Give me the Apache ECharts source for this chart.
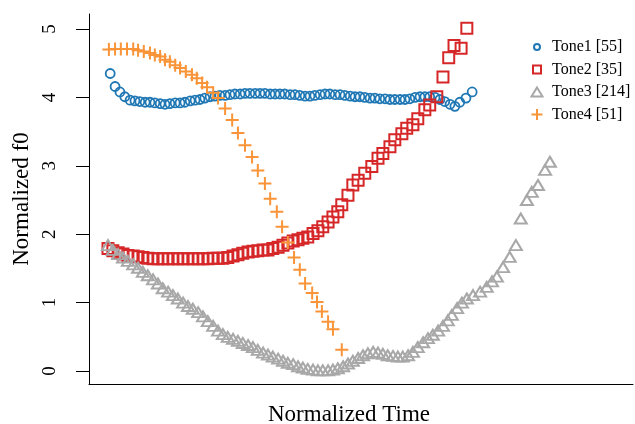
<!DOCTYPE html>
<html>
<head>
<meta charset="utf-8">
<script src="https://cdn.jsdelivr.net/npm/echarts@6/dist/echarts.min.js"></script>
<style>
  html, body { margin: 0; padding: 0; background: #fff; }
  #chart { width: 635px; height: 424px; }
</style>
</head>
<body>
<div id="chart"></div>
<script>
// Normalized f0 contours of four tones over normalized time (0-100).
const tone1Time = [0.5, 1.6, 2.7, 3.8, 5.0, 6.1, 7.2, 8.4, 9.5, 10.6, 11.8, 12.9, 14.0, 15.2, 16.3, 17.4, 18.6, 19.7, 20.8, 21.9,
  23.1, 24.2, 25.3, 26.5, 27.6, 28.7, 29.9, 31.0, 32.1, 33.3, 34.4, 35.5, 36.7, 37.8, 38.9, 40.0, 41.2, 42.3, 43.4, 44.6,
  45.7, 46.8, 48.0, 49.1, 50.2, 51.4, 52.5, 53.6, 54.8, 55.9, 57.0, 58.1, 59.3, 60.4, 61.5, 62.7, 63.8, 64.9, 66.1, 67.2,
  68.3, 69.5, 70.6, 71.7, 72.8, 74.0, 75.1, 76.2, 77.4, 78.5, 79.6, 81.0, 82.4];
const tone1F0 = [4.35, 4.16, 4.08, 4.01, 3.96, 3.95, 3.94, 3.93, 3.93, 3.92, 3.91, 3.90, 3.91, 3.92, 3.92, 3.93, 3.95, 3.96, 3.97, 3.99,
  4.01, 4.02, 4.03, 4.03, 4.04, 4.05, 4.05, 4.06, 4.06, 4.06, 4.06, 4.06, 4.05, 4.05, 4.05, 4.05, 4.04, 4.04, 4.03, 4.02,
  4.02, 4.03, 4.04, 4.05, 4.05, 4.04, 4.04, 4.03, 4.02, 4.01, 4.01, 4.00, 3.99, 3.99, 3.98, 3.98, 3.97, 3.97, 3.97, 3.97,
  3.98, 4.00, 4.01, 4.01, 4.01, 4.00, 3.97, 3.94, 3.90, 3.87, 3.93, 3.99, 4.08];

const tone2Time = [0, 1.1, 2.3, 3.4, 4.5, 5.7, 6.8, 7.9, 9.0, 10.2, 11.3, 12.4, 13.6, 14.7, 15.8, 17.0, 18.1, 19.2, 20.4, 21.5,
  22.6, 23.8, 24.9, 26.0, 27.1, 28.3, 29.4, 30.5, 31.7, 32.8, 33.9, 35.1, 36.2, 37.3, 38.5, 39.6, 40.7, 41.9, 43.0, 44.1,
  45.2, 46.4, 47.5, 48.6, 49.8, 50.9, 52.0, 52.9, 54.3, 55.4, 56.6, 58.1, 59.7, 61.1, 62.2, 63.8, 64.9, 66.5, 67.6, 69.0,
  70.1, 71.7, 72.8, 74.4, 75.8, 77.1, 78.3, 79.9, 81.2];
const tone2F0 = [1.79, 1.76, 1.73, 1.71, 1.69, 1.68, 1.67, 1.66, 1.65, 1.64, 1.64, 1.64, 1.64, 1.64, 1.64, 1.64, 1.64, 1.64, 1.64, 1.64,
  1.64, 1.65, 1.65, 1.65, 1.66, 1.68, 1.70, 1.72, 1.74, 1.75, 1.76, 1.77, 1.77, 1.79, 1.81, 1.84, 1.87, 1.90, 1.92, 1.94,
  1.96, 2.01, 2.05, 2.11, 2.18, 2.25, 2.33, 2.43, 2.57, 2.72, 2.79, 2.89, 2.99, 3.11, 3.18, 3.28, 3.38, 3.47, 3.55, 3.60,
  3.69, 3.82, 3.89, 4.01, 4.30, 4.58, 4.76, 4.72, 5.01];

const tone3Time = [0, 1.1, 2.3, 3.4, 4.5, 5.7, 6.8, 7.9, 9.0, 10.2, 11.3, 12.4, 13.6, 14.7, 15.8, 17.0, 18.1, 19.2, 20.4, 21.5,
  22.6, 23.8, 24.9, 26.0, 27.1, 28.3, 29.4, 30.5, 31.7, 32.8, 33.9, 35.1, 36.2, 37.3, 38.5, 39.6, 40.7, 41.9, 43.0, 44.1,
  45.2, 46.4, 47.5, 48.6, 49.8, 50.9, 52.0, 53.2, 54.3, 55.4, 56.6, 57.7, 58.8, 60.0, 61.1, 62.2, 63.3, 64.5, 65.6, 66.7,
  67.9, 69.0, 70.1, 71.3, 72.4, 73.5, 74.7, 75.8, 76.9, 77.8, 79.0, 80.1, 81.2, 82.6, 84.2, 85.7, 86.9, 88.0, 89.4, 90.9,
  92.3, 93.4, 94.8, 95.9, 97.3, 98.9, 100];
const tone3F0 = [1.84, 1.77, 1.71, 1.66, 1.61, 1.56, 1.51, 1.45, 1.40, 1.34, 1.28, 1.21, 1.16, 1.11, 1.06, 1.00, 0.95, 0.91, 0.86, 0.80,
  0.73, 0.66, 0.59, 0.54, 0.50, 0.47, 0.44, 0.41, 0.38, 0.35, 0.31, 0.27, 0.24, 0.21, 0.18, 0.15, 0.12, 0.10, 0.07, 0.05,
  0.03, 0.02, 0.01, 0.01, 0.01, 0.02, 0.04, 0.07, 0.11, 0.15, 0.19, 0.23, 0.26, 0.28, 0.27, 0.25, 0.23, 0.22, 0.21, 0.21,
  0.23, 0.28, 0.35, 0.42, 0.48, 0.53, 0.59, 0.66, 0.74, 0.82, 0.92, 1.00, 1.06, 1.11, 1.16, 1.23, 1.31, 1.38, 1.52, 1.67,
  1.84, 2.23, 2.50, 2.62, 2.72, 2.94, 3.06];

const tone4Time = [0.2, 1.6, 2.9, 4.3, 5.7, 6.8, 8.1, 9.5, 10.6, 11.8, 12.9, 14.0, 15.2, 16.3, 17.6, 19.0, 20.1, 21.3, 22.4, 23.8,
  24.9, 26.5, 28.1, 29.4, 31.0, 32.6, 33.9, 35.5, 36.7, 38.2, 39.4, 40.7, 42.1, 43.4, 44.6, 46.2, 47.3, 48.4, 49.8, 50.9,
  52.9];
const tone4F0 = [4.70, 4.71, 4.71, 4.71, 4.71, 4.69, 4.67, 4.65, 4.62, 4.60, 4.55, 4.52, 4.47, 4.43, 4.38, 4.33, 4.28, 4.21, 4.15, 4.07,
  3.99, 3.84, 3.67, 3.48, 3.30, 3.13, 2.93, 2.74, 2.52, 2.33, 2.11, 1.88, 1.66, 1.48, 1.28, 1.14, 1.01, 0.87, 0.72, 0.61,
  0.31];

const toneNames = ['Tone1 [55]', 'Tone2 [35]', 'Tone3 [214]', 'Tone4 [51]'];
const yTicks = [0, 1, 2, 3, 4, 5];

const serif = 'Liberation Serif';
const zip = (t, v) => t.map((x, i) => [x, v[i]]);

// open "+" marker drawn as two strokes
const PLUS = 'path://M0,5H10M5,0V10';

const seriesDefs = [
  { name: toneNames[0], data: zip(tone1Time, tone1F0), symbol: 'circle', size: 9, color: '#1f77b4', lw: 1.8, legendSize: [6, 6] },
  { name: toneNames[1], data: zip(tone2Time, tone2F0), symbol: 'rect', size: 11, color: '#d62728', lw: 2, legendSize: [8, 8] },
  { name: toneNames[2], data: zip(tone3Time, tone3F0), symbol: 'triangle', size: [12, 10], color: '#a8a8a8', lw: 2, legendSize: [11, 9] },
  { name: toneNames[3], data: zip(tone4Time, tone4F0), symbol: PLUS, size: 13, color: '#f99439', lw: 2, legendSize: [11, 11] }
];

const chart = echarts.init(document.getElementById('chart'), null, { renderer: 'canvas' });

// legend rows: icon centred at x=536, text starting at x=551
const legendIconCx = 536;
const legendTextX = 551;
const legendRowCy = [47, 69.5, 92, 114.5];

chart.setOption({
  animation: false,
  backgroundColor: '#ffffff',
  grid: { left: 89, right: 2, top: 14, bottom: 40, containLabel: false, outerBoundsMode: 'none' },
  xAxis: {
    type: 'value',
    min: -4.3,
    max: 118.8,
    name: 'Normalized Time',
    nameLocation: 'middle',
    nameGap: 19,
    nameTextStyle: { fontFamily: serif, fontSize: 23, color: '#000', verticalAlign: 'top', padding: [0, 24, 0, 0] },
    axisLine: { show: true, onZero: false, lineStyle: { color: '#000', width: 1 } },
    axisTick: { show: false },
    axisLabel: { show: false },
    splitLine: { show: false }
  },
  yAxis: {
    type: 'value',
    min: -0.19,
    max: 5.22,
    name: 'Normalized f0',
    nameLocation: 'middle',
    nameGap: 55,
    nameRotate: 90,
    nameTextStyle: { fontFamily: serif, fontSize: 23, color: '#000' },
    axisLine: { show: true, onZero: false, lineStyle: { color: '#000', width: 1 } },
    axisTick: { show: true, length: 13, customValues: yTicks, lineStyle: { color: '#000', width: 1 } },
    axisLabel: {
      customValues: yTicks,
      rotate: 90,
      margin: 29,
      fontFamily: serif,
      fontSize: 19,
      color: '#000'
    },
    splitLine: { show: false }
  },
  legend: seriesDefs.map((s, i) => ({
    data: [s.name],
    orient: 'vertical',
    left: legendIconCx - s.legendSize[0] / 2,
    top: legendRowCy[i] - 8,
    itemWidth: s.legendSize[0],
    itemHeight: s.legendSize[1],
    padding: 0,
    selectedMode: false,
    textStyle: {
      fontFamily: serif, fontSize: 16, color: '#000',
      padding: [0, 0, 0, legendTextX - (legendIconCx + s.legendSize[0] / 2) - 5]
    }
  })),
  series: seriesDefs.map(s => ({
    type: 'scatter',
    name: s.name,
    data: s.data,
    symbol: s.symbol,
    symbolSize: s.size,
    itemStyle: { color: 'rgba(0,0,0,0)', borderColor: s.color, borderWidth: s.lw, opacity: 1 },
    emphasis: { disabled: true }
  }))
});
</script>
</body>
</html>
